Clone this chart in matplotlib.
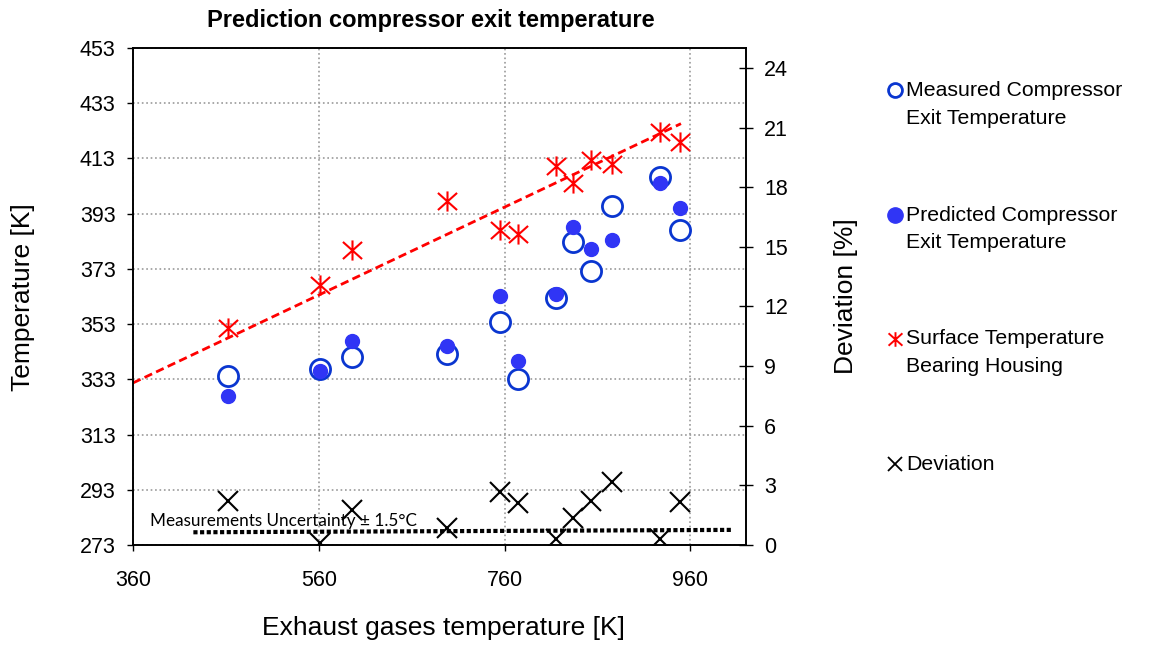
import numpy as np
import matplotlib
matplotlib.use("Agg")
import matplotlib.pyplot as plt
from matplotlib.lines import Line2D
from matplotlib.path import Path

plt.rcParams['font.family'] = ['Liberation Sans', 'DejaVu Sans']

# --------------------------------------------
# Data
# --------------------------------------------

exhaust_T = [462, 561, 596, 698, 755, 774, 815, 834, 853, 876, 927, 949]

measured_T = [334.2, 336.6, 341.1, 342.0, 353.6, 333.0,
              362.6, 382.9, 372.2, 395.8, 406.1, 387.1]
predicted_T = [327.0, 336.0, 347.0, 345.0, 363.2, 339.8,
               363.8, 388.2, 380.1, 383.3, 404.2, 395.2]
surface_T = [351.6, 367.0, 379.8, 397.6, 387.0, 385.5,
             410.3, 404.0, 412.3, 411.1, 422.4, 419.0]
deviation = [2.19, 0.08, 1.77, 0.84, 2.65, 2.10,
             0.29, 1.38, 2.19, 3.15, 0.29, 2.16]

trend_x = [360, 950]
trend_T = [331.7, 425.6]

uncert_x = [425, 1004]
uncert_dev = [0.64, 0.76]

x_ticks = [360, 560, 760, 960]
T_ticks = [273, 293, 313, 333, 353, 373, 393, 413, 433, 453]
dev_ticks = [0, 3, 6, 9, 12, 15, 18, 21, 24]

legend_labels = [
    ["Measured Compressor", "Exit Temperature"],
    ["Predicted Compressor", "Exit Temperature"],
    ["Surface Temperature", "Bearing Housing"],
    ["Deviation"],
]

BLUE_EDGE = "#0a36d0"
BLUE_FILL = "#3035f5"
RED = "#ff0000"

W, H = 1159, 646

# Excel style asterisk: vertical bar plus a diagonal cross
ASTERISK = Path(
    [(0, -1), (0, 1), (-0.95, -0.85), (0.95, 0.85), (-0.95, 0.85), (0.95, -0.85)],
    [Path.MOVETO, Path.LINETO, Path.MOVETO, Path.LINETO, Path.MOVETO, Path.LINETO],
)


def px(x, y):
    # pixel position (from top-left) to figure fraction
    return x / W, 1 - y / H


fig = plt.figure(figsize=(W / 100, H / 100), dpi=100)
ax = fig.add_axes([133 / W, 1 - 545 / H, (746 - 133) / W, 497 / H])
ax2 = ax.twinx()

# --------------------------------------------
# Left axis: temperatures
# --------------------------------------------

ax.plot(trend_x, trend_T, color=RED, lw=2, ls=(0, (3, 1.6)), zorder=2)
ax.plot(exhaust_T, surface_T, ls="none", marker=ASTERISK, ms=14.5,
        mew=1.5, color=RED, zorder=3)
ax.plot(exhaust_T, measured_T, ls="none", marker="o", ms=14.5,
        mfc="white", mec=BLUE_EDGE, mew=2, zorder=4)
ax.plot(exhaust_T, predicted_T, ls="none", marker="o", ms=10,
        mfc=BLUE_FILL, mec=BLUE_FILL, mew=1, zorder=5)

ax.set_xlim(360, 1020)
ax.set_ylim(273, 453)
ax.set_xticks(x_ticks)
ax.set_yticks(T_ticks)
ax.grid(True, color="#999999", ls=":", lw=1.2)
ax.tick_params(axis="y", direction="out", length=4.5, width=1,
               labelsize=15.5, pad=8)
ax.tick_params(axis="x", direction="out", length=4, width=1,
               labelsize=15.5, pad=14)

# --------------------------------------------
# Right axis: deviation
# --------------------------------------------

ax2.plot(exhaust_T, deviation, ls="none", marker="x", ms=14, mew=1.5,
         color="black", zorder=3)
ax2.plot(uncert_x, uncert_dev, color="black", lw=3,
         ls=(0, (1, 0.6)), zorder=2)
ax2.set_ylim(0, 25)
ax2.set_yticks(dev_ticks)
ax2.tick_params(axis="y", direction="inout", length=10, width=1,
                labelsize=15.5, pad=8)

for a in (ax, ax2):
    for s in a.spines.values():
        s.set_color("black")
        s.set_linewidth(1.2)

fig.text(*px(150, 521), "Measurements Uncertainty \u00b1 1.5\u00b0C",
         family=["Lato", "DejaVu Sans"], fontsize=12.3, ha="left",
         va="center")

# --------------------------------------------
# Titles and axis labels
# --------------------------------------------

fig.text(*px(431, 20), "Prediction compressor exit temperature",
         fontsize=17, fontweight="bold", ha="center", va="center")
fig.text(*px(23, 297), "Temperature [K]", fontsize=19, rotation=90,
         ha="center", va="center")
fig.text(*px(846, 296), "Deviation [%]", fontsize=19, rotation=90,
         ha="center", va="center")
fig.text(*px(443, 628), "Exhaust gases temperature [K]", fontsize=19,
         ha="center", va="center")

# --------------------------------------------
# Legend drawn by hand (marker next to first line)
# --------------------------------------------

legend_styles = [
    dict(marker="o", ms=10, mfc="white", mec=BLUE_EDGE, mew=2),
    dict(marker="o", ms=11, mfc=BLUE_FILL, mec=BLUE_FILL, mew=1),
    dict(marker=ASTERISK, ms=10.5, color=RED, mew=1.4),
    dict(marker="x", ms=10, color="black", mew=1.3),
]
legend_y = [90, 215, 339, 464]

for labels, style, y0 in zip(legend_labels, legend_styles, legend_y):
    mx, my = px(895, y0)
    fig.add_artist(Line2D([mx], [my], transform=fig.transFigure,
                          ls="none", **style))
    for i, line in enumerate(labels):
        fig.text(*px(906, y0 + 28 * i), line, fontsize=15.3, ha="left",
                 va="center")

fig.savefig("out.png", dpi=100)
